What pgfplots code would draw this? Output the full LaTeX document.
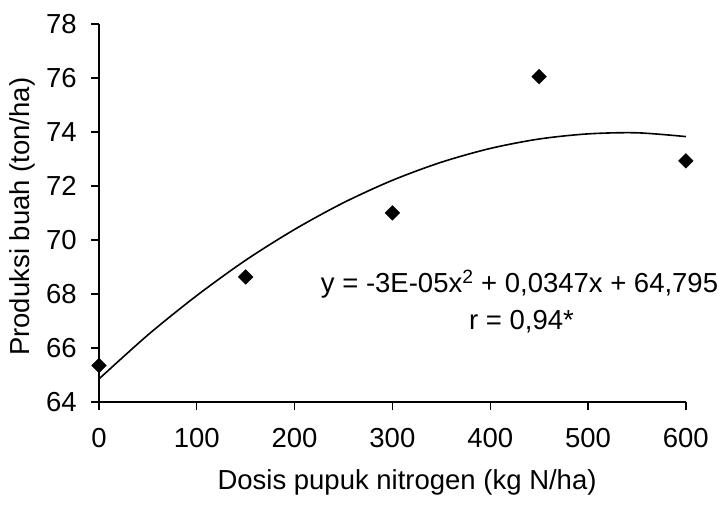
\documentclass[border=0pt]{standalone}
\usepackage{fontspec}
\setmainfont{Liberation Sans}
\usepackage{pgfplots}
\pgfplotsset{compat=1.18}
\begin{document}
\fontsize{27.5}{32}\selectfont
\begin{tikzpicture}
\begin{axis}[
  scale only axis,
  width=587pt, height=378pt,
  xmin=0, xmax=600, ymin=64, ymax=78,
  xtick={0,100,...,600}, ytick={64,66,...,78},
  axis x line=bottom, axis y line=left,
  axis line style={-, line width=1.6pt},
  tick style={line width=1.4pt, black},
  tick align=outside, major tick length=8pt,
  /pgf/number format/assume math mode=true,
  ticklabel style={font=\fontsize{27.5}{32}\selectfont},
  xticklabel style={yshift=-9pt},
  yticklabel style={xshift=-5pt},
  label style={font=\fontsize{27.5}{32}\selectfont},
  every axis x label/.style={at={(axis description cs:0.525,-0.212)}, anchor=center},
  every axis y label/.style={at={(axis description cs:-0.13,0.49)}, rotate=90, anchor=center},
  xlabel={Dosis pupuk nitrogen (kg N/ha)},
  ylabel={Produksi buah (ton/ha)},
  clip=false,
]
\addplot[black, line width=1.6pt, smooth, no marks] coordinates {
(0,64.85) (50,66.48) (100,67.94) (150,69.25) (200,70.39) (250,71.38) (300,72.21)
(350,72.88) (400,73.39) (450,73.74) (500,73.93) (550,73.97) (600,73.83)};
\addplot[only marks, mark=square*, mark size=5.2pt, mark options={rotate=45, fill=black, draw=black}] coordinates {
(0,65.35) (150,68.63) (300,71.0) (450,76.05) (600,72.93)};
\node[anchor=center, inner sep=0pt] at (axis cs:430,68.35) {y = -3E-05x\textsuperscript{2} + 0,0347x + 64,795};
\node[anchor=center, inner sep=0pt] at (axis cs:432,66.97) {r = 0,94*};
\path (axis cs:-101.2,60.33) rectangle (axis cs:641.1,78.89);
\end{axis}
\end{tikzpicture}
\end{document}
